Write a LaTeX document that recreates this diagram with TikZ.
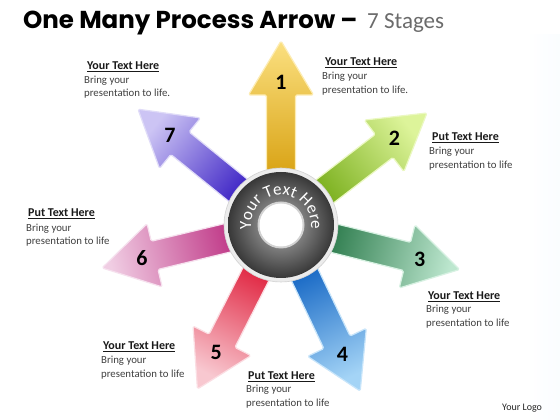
\documentclass[tikz,border=0pt]{standalone}
\usepackage{fontspec}
\setmainfont{Carlito}
\newfontfamily\titlefont{Poppins}
\usetikzlibrary{calc,decorations.text}
\definecolor{bgb}{HTML}{CFE9F9}
\definecolor{a1d}{HTML}{D69E0C}\definecolor{a1l}{HTML}{FBE080}
\definecolor{a2d}{HTML}{78AE1A}\definecolor{a2l}{HTML}{DDF49A}
\definecolor{a3d}{HTML}{2B7A4B}\definecolor{a3l}{HTML}{BDE7CF}
\definecolor{a4d}{HTML}{1466C4}\definecolor{a4l}{HTML}{A4D4F6}
\definecolor{a5d}{HTML}{E0223E}\definecolor{a5l}{HTML}{F8C8D0}
\definecolor{a6d}{HTML}{BE3384}\definecolor{a6l}{HTML}{F0CDE3}
\definecolor{a7d}{HTML}{3A20C4}\definecolor{a7l}{HTML}{CCC4F4}
\pgfdeclarehorizontalshading{bgsh}{100bp}{color(0bp)=(bgb); color(20bp)=(white); color(72bp)=(white); color(100bp)=(bgb)}
\newcommand\ringfont{\fontsize{17}{17}\selectfont}
\begin{document}
\begin{tikzpicture}[x=1pt,y=1pt,
  arrsty/.style={line width=1.2pt, rounded corners=1.5pt, line join=round},
  numsty/.style={font=\bfseries\fontsize{22}{22}\selectfont, text=black, inner sep=0pt},
  headsty/.style={anchor=mid west, inner sep=0pt, font=\bfseries\fontsize{12}{14}\selectfont, text=black!90},
  bodysty/.style={anchor=mid west, inner sep=0pt, font=\fontsize{10.8}{13}\selectfont, text=black!75}]
\useasboundingbox (0,0) rectangle (560,420);
\fill[white] (0,0) rectangle (560,420);
\shade[shading=bgsh] (0,0) rectangle (560,385);
\coordinate (C) at (281,195);
% title
\node[anchor=base west, inner sep=0pt, font=\titlefont\bfseries\fontsize{24.5}{26}\selectfont] (title) at (23,391) {One Many Process Arrow –};
\node[anchor=base west, inner sep=0pt, text=black!58, font=\fontsize{23}{23}\selectfont] (stages) at (367,391) {7 Stages};
% arrows
\foreach \a/\dk/\lt/\n in {90/a1d/a1l/1, 37.5/a2d/a2l/2, -14/a3d/a3l/3, -64.5/a4d/a4l/4, -117/a5d/a5l/5, -166.5/a6d/a6l/6, 141/a7d/a7l/7}{
  \path[arrsty, draw=\lt!60!white, left color=\dk, right color=\lt, shading angle=\a+90]
    ($(C)+(\a:40)+(\a+90:14.5)$) -- ($(C)+(\a:130)+(\a+90:14.5)$) -- ($(C)+(\a:130)+(\a+90:32.5)$) -- ($(C)+(\a:184)$) -- ($(C)+(\a:130)+(\a-90:32.5)$) -- ($(C)+(\a:130)+(\a-90:14.5)$) -- ($(C)+(\a:40)+(\a-90:14.5)$) -- cycle;
  \node[numsty] (n\n) at ($(C)+(\a:143)$) {\n};
}
% ring
\fill[gray!15, draw=gray!35, line width=0.6pt] (C) circle (57);
\shade[inner color=black!30, outer color=black!78] (C) circle (53);
\fill[gray!35] (C) circle (23.5);
\fill[white] (C) circle (21.5);
\path[decorate, decoration={text along path, text align=center, text color=white, text={|\ringfont|Your Text Here}}]
  ($(C)+(200:30)$) arc[start angle=200, end angle=-20, radius=30];
% text blocks
\node[headsty] (h7) at (87,353) {\underline{Your Text Here}};
\node[bodysty] (b7) at (84,338.5) {Bring your};
\node[bodysty] (c7) at (84,325.5) {presentation to life.};
\node[headsty] (h1) at (325,357) {\underline{Your Text Here}};
\node[bodysty] (b1) at (322,343) {Bring your};
\node[bodysty] (c1) at (322,329) {presentation to life.};
\node[headsty] (h2) at (432,282) {\underline{Put Text Here}};
\node[bodysty] (b2) at (429,268) {Bring your};
\node[bodysty] (c2) at (429,254) {presentation to life};
\node[headsty] (h3) at (428,123) {\underline{Your Text Here}};
\node[bodysty] (b3) at (426,110) {Bring your};
\node[bodysty] (c3) at (426,96) {presentation to life};
\node[headsty] (h4) at (248,43) {\underline{Put Text Here}};
\node[bodysty] (b4) at (246,30) {Bring your};
\node[bodysty] (c4) at (246,16) {presentation to life};
\node[headsty] (h5) at (103,73) {\underline{Your Text Here}};
\node[bodysty] (b5) at (101,59) {Bring your};
\node[bodysty] (c5) at (101,45) {presentation to life};
\node[headsty] (h6) at (28,206) {\underline{Put Text Here}};
\node[bodysty] (b6) at (26,191) {Bring your};
\node[bodysty] (c6) at (26,178) {presentation to life};
\node[anchor=mid west, inner sep=0pt, font=\fontsize{10}{12}\selectfont, text=black!85] (logo) at (502,12) {Your Logo};
\end{tikzpicture}
\end{document}
